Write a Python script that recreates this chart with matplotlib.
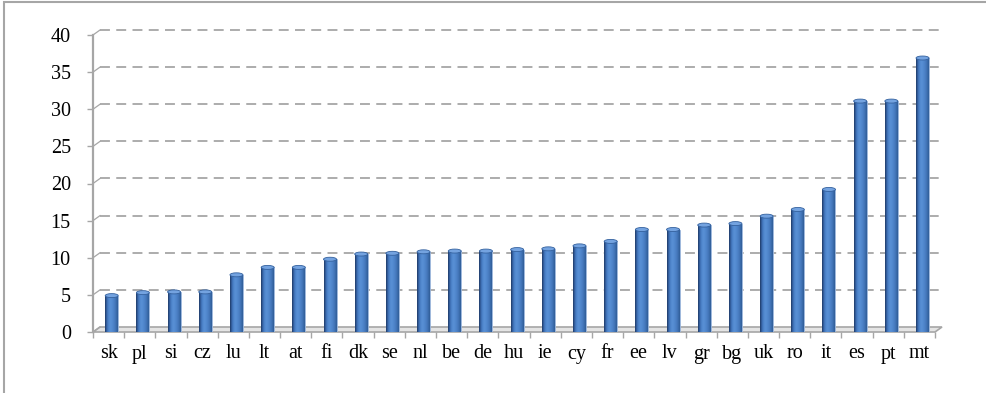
import numpy as np
import matplotlib
matplotlib.use("Agg")
import matplotlib.pyplot as plt
from matplotlib.patches import Rectangle, Ellipse, Polygon
from matplotlib.colors import LinearSegmentedColormap

countries = ["sk", "pl", "si", "cz", "lu", "lt", "at", "fi", "dk", "se", "nl",
             "be", "de", "hu", "ie", "cy", "fr", "ee", "lv", "gr", "bg", "uk",
             "ro", "it", "es", "pt", "mt"]
values = [4.9, 5.3, 5.4, 5.4, 7.7, 8.7, 8.7, 9.8, 10.5, 10.6, 10.8,
          10.9, 10.9, 11.1, 11.2, 11.6, 12.2, 13.8, 13.8, 14.4, 14.6, 15.6,
          16.5, 19.2, 31.1, 31.1, 36.9]
y_ticks = [0, 5, 10, 15, 20, 25, 30, 35, 40]

W, H = 986, 393
fig = plt.figure(figsize=(W / 100, H / 100), dpi=100)
fig.patch.set_facecolor("white")

# plot area in pixels
x0_px, x1_px = 93, 935
y0_px, y1_px = 332, 35
ax = fig.add_axes([x0_px / W, 1 - y0_px / H, (x1_px - x0_px) / W, (y0_px - y1_px) / H])
n = len(countries)
ymax = y_ticks[-1]

for s in ax.spines.values():
    s.set_visible(False)
ax.patch.set_visible(False)

ux = n / (x1_px - x0_px)        # data units per pixel, x
uy = ymax / (y0_px - y1_px)     # data units per pixel, y
dx, dy = 7 * ux, 5 * uy         # depth offset of the back wall

grid_col = "#a6a6a6"
xl, xr = -0.5, n - 0.5

# floor
floor = Polygon([[xl, 0], [xr, 0], [xr + dx, dy], [xl + dx, dy]], closed=True,
                facecolor="#e4e4e4", edgecolor=grid_col, lw=1.2, zorder=1, clip_on=False)
ax.add_patch(floor)

# back-wall gridlines and their links to the value axis
for v in y_ticks[1:]:
    ax.plot([xl + dx, xr + dx], [v + dy, v + dy], ls=(0, (5.5, 3.5)), color=grid_col,
            lw=1.3, zorder=1, clip_on=False)
for v in y_ticks:
    ax.plot([xl, xl + dx], [v, v + dy], color=grid_col, lw=0.9, zorder=1, clip_on=False)

# value axis line
ax.plot([xl, xl], [0, ymax], color=grid_col, lw=1.6, zorder=2, clip_on=False)

# bars with a shaded cylindrical look
cmap = LinearSegmentedColormap.from_list(
    "cyl", ["#1c3560", "#3a6bb0", "#4f86cd", "#5a91d6", "#5289cf",
            "#4a7fc4", "#3f71b2", "#2f5b96"])
grad = np.linspace(0, 1, 64).reshape(1, -1)
bx = 0.1
bw = 13 * ux
bars = ax.bar(np.arange(n) + bx, values, width=bw, color="#4f81bd", zorder=3,
              edgecolor="#9fb8dc", linewidth=0.6)
for i, (patch, v) in enumerate(zip(bars.patches, values)):
    xc = i + bx
    im = ax.imshow(grad, extent=[xc - bw / 2, xc + bw / 2, 0, v], aspect="auto",
                   cmap=cmap, zorder=3.1, interpolation="bicubic")
    im.set_clip_path(patch)
    ax.add_patch(Ellipse((xc, v), bw, 4 * uy, facecolor="#74a3e0",
                         edgecolor="#34619e", lw=0.6, zorder=3.2))

ax.set_xlim(xl, xr)
ax.set_ylim(0, ymax)

ax.set_yticks(y_ticks)
ax.set_xticks(np.arange(n))
ax.set_xticklabels(countries)
ax.set_xticks(np.arange(n + 1) - 0.5, minor=True)

font = dict(family="Liberation Serif", size=14.5)
for lab in ax.get_xticklabels() + ax.get_yticklabels():
    lab.set_fontfamily(font["family"])
    lab.set_fontsize(font["size"])

ax.tick_params(axis="y", length=4, width=1, color=grid_col, pad=12)
ax.tick_params(axis="x", which="major", length=0, pad=9)
ax.tick_params(axis="x", which="minor", length=4, width=1, color=grid_col)

# chart-area frame
fig.add_artist(Rectangle((4 / W, -0.05), 1.2, 1.05 - 2 / H, transform=fig.transFigure,
                         fill=False, edgecolor="#a6a6a6", lw=1.5))

fig.savefig("out.png", dpi=100)
